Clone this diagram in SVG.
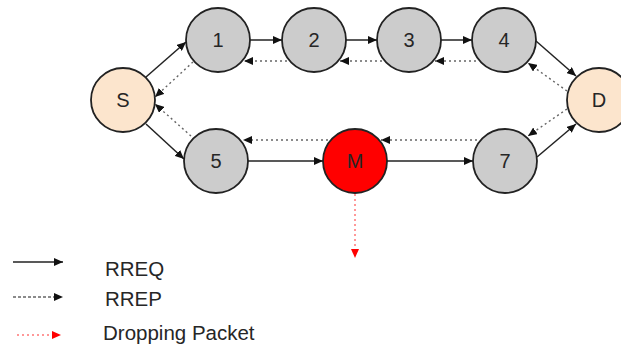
<svg xmlns="http://www.w3.org/2000/svg" width="621" height="347" viewBox="0 0 621 347">
<style>
.node{stroke:#222;stroke-width:1.8}
.gray{fill:#cccccc}
.peach{fill:#fce5cd}
.red{fill:#ff0000}
.lbl{font-family:"Liberation Sans",Arial,sans-serif;font-size:20px;fill:#262626;text-anchor:middle;dominant-baseline:central}
.leg{font-family:"Liberation Sans",Arial,sans-serif;font-size:20.5px;fill:#262626}
.req{stroke:#222;stroke-width:1.5;fill:none;marker-end:url(#ah)}
.rep{stroke:#666;stroke-width:1.4;fill:none;stroke-dasharray:2 3;marker-end:url(#ah)}
.drop{stroke:#ff7777;stroke-width:1.5;fill:none;stroke-dasharray:2 3;marker-end:url(#ahr)}
</style>
<defs>
<marker id="ah" markerUnits="userSpaceOnUse" markerWidth="10" markerHeight="8" refX="9" refY="4" orient="auto">
<path d="M0,0 L9,4 L0,8 Z" fill="#111"/>
</marker>
<marker id="ahr" markerUnits="userSpaceOnUse" markerWidth="10" markerHeight="8" refX="9" refY="4" orient="auto">
<path d="M0,0 L9,4 L0,8 Z" fill="#ff0000"/>
</marker>
</defs>
<g id="node-S"><circle class="node peach" cx="123" cy="100" r="32"/><text class="lbl" x="123" y="100">S</text></g>
<g id="node-1"><circle class="node gray" cx="218" cy="40" r="32"/><text class="lbl" x="218" y="40">1</text></g>
<g id="node-2"><circle class="node gray" cx="314" cy="40" r="32"/><text class="lbl" x="314" y="40">2</text></g>
<g id="node-3"><circle class="node gray" cx="409" cy="40" r="32"/><text class="lbl" x="409" y="40">3</text></g>
<g id="node-4"><circle class="node gray" cx="504" cy="40" r="32"/><text class="lbl" x="504" y="40">4</text></g>
<g id="node-D"><circle class="node peach" cx="599" cy="100" r="32"/><text class="lbl" x="599" y="100">D</text></g>
<g id="node-5"><circle class="node gray" cx="216" cy="161" r="32"/><text class="lbl" x="216" y="161">5</text></g>
<g id="node-M"><circle class="node red" cx="355" cy="161" r="32"/><text class="lbl" x="355" y="161">M</text></g>
<g id="node-7"><circle class="node gray" cx="505" cy="161" r="32"/><text class="lbl" x="505" y="161">7</text></g>
<g id="connectors">
<line class="req" x1="146" y1="77" x2="186" y2="42"/>
<line class="req" x1="250" y1="40" x2="282" y2="40"/>
<line class="req" x1="346" y1="40" x2="377" y2="40"/>
<line class="req" x1="441" y1="40" x2="472" y2="40"/>
<line class="req" x1="536" y1="41" x2="576" y2="76"/>
<line class="req" x1="146" y1="124" x2="184" y2="159"/>
<line class="req" x1="248" y1="161" x2="323" y2="161"/>
<line class="req" x1="387" y1="161" x2="473" y2="161"/>
<line class="req" x1="537" y1="157" x2="576" y2="124"/>
<line class="rep" x1="476" y1="61" x2="435" y2="61"/>
<line class="rep" x1="382" y1="61" x2="340" y2="61"/>
<line class="rep" x1="287" y1="61" x2="244" y2="61"/>
<line class="rep" x1="193" y1="62" x2="155" y2="97"/>
<line class="rep" x1="567" y1="91" x2="528" y2="63"/>
<line class="rep" x1="567" y1="109" x2="528" y2="136"/>
<line class="rep" x1="477" y1="140" x2="381" y2="140"/>
<line class="rep" x1="328" y1="140" x2="243" y2="140"/>
<line class="rep" x1="191" y1="136" x2="155" y2="104"/>
<line class="drop" x1="355" y1="194" x2="355" y2="258"/>
</g>
<g id="legend">
<line class="req" x1="13" y1="262" x2="63" y2="262"/>
<text class="leg" x="105" y="276">RREQ</text>
<line class="rep" style="stroke-dasharray:3 2" x1="13" y1="297" x2="63" y2="297"/>
<text class="leg" x="105" y="306">RREP</text>
<line class="drop" x1="17" y1="335" x2="61" y2="335"/>
<text class="leg" x="103" y="340">Dropping Packet</text>
</g>
</svg>
